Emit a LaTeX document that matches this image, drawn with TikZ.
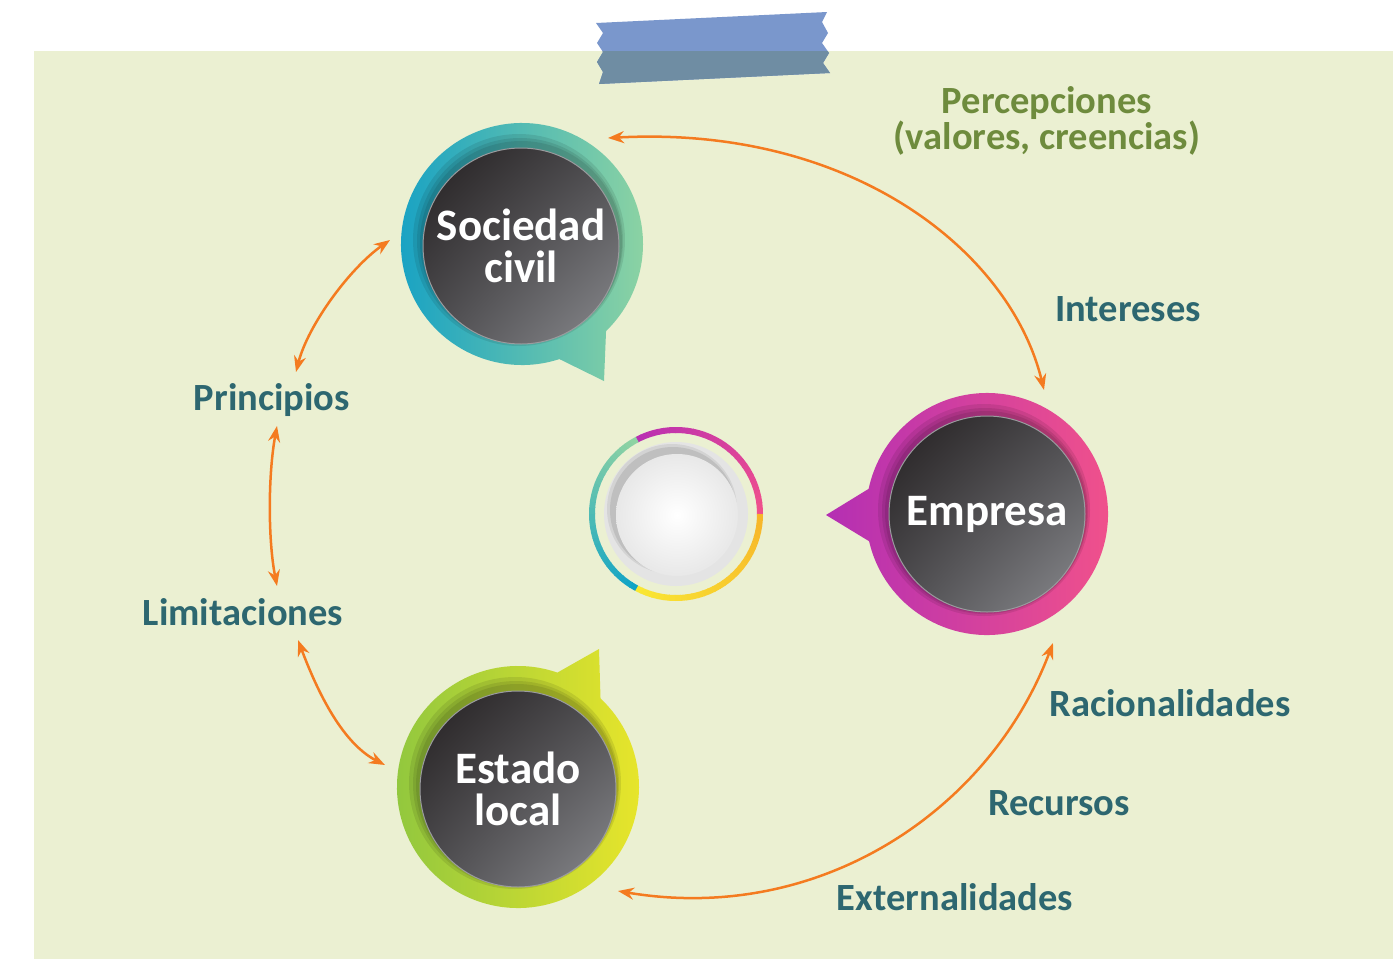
\documentclass[tikz,border=0pt]{standalone}
\usepackage{fontspec}
\setmainfont{Carlito}
\usetikzlibrary{arrows.meta,positioning,shadings}

\definecolor{bgGreen}{HTML}{EBF0D2}
\definecolor{tapeTop}{HTML}{7A97CC}
\definecolor{tapeLow}{HTML}{6F8DA3}
\definecolor{arrowOrange}{HTML}{F47B20}
\definecolor{labelTeal}{HTML}{2D6770}
\definecolor{labelOlive}{HTML}{6E8B3D}
\definecolor{hubDark}{HTML}{231F20}
\definecolor{hubMid}{HTML}{4E4D50}
\definecolor{hubLight}{HTML}{8A8B8F}
\definecolor{hubRim}{HTML}{9A9B9E}
\definecolor{socLeft}{HTML}{13A0C5}
\definecolor{socRight}{HTML}{8FD4A2}
\definecolor{empLeft}{HTML}{B42FB3}
\definecolor{empRight}{HTML}{F2528A}
\definecolor{estLeft}{HTML}{8DC63F}
\definecolor{estRight}{HTML}{EAE62A}
\definecolor{ringPurple}{HTML}{B92FB2}
\definecolor{ringPink}{HTML}{F0508C}
\definecolor{ringOrange}{HTML}{F7B52A}
\definecolor{ringYellow}{HTML}{F9E733}
\definecolor{ringBlue}{HTML}{0FA3C6}
\definecolor{ringGreen}{HTML}{8FD3A3}
\definecolor{diskGray}{HTML}{E4E4E4}

% colour-graded arc of the middle ring
\def\gradarc(#1)(#2:#3)#4#5{\foreach \k in {0,...,29}{\pgfmathsetmacro\mixp{100-\k*100/29}\pgfmathsetmacro\angA{#2+(#3-#2)*\k/30}\draw[line width=6pt, draw=#4!\mixp!#5] (#1) ++(\angA:84) arc[start angle=\angA, delta angle={(#3-#2)/30+0.5}, radius=84];}}
\def\tapepath{(596,23) -- (827,12) -- (822,22) -- (828,33) -- (822,43) -- (829,53) -- (823,63) -- (830,73) -- (599,84) -- (603,72) -- (597,62) -- (603,52) -- (597,43) -- (603,33) -- cycle}

\tikzset{
  link/.style={draw=arrowOrange, line width=2.5pt, {Stealth[length=16pt,width=12pt]}-{Stealth[length=16pt,width=12pt]}},
  word/.style={font=\bfseries\fontsize{38.5}{34}\selectfont, text=labelTeal, inner sep=0pt, align=center},
  hub/.style={circle, minimum size=196pt, inner sep=0pt, upper left=hubDark, lower right=hubLight, upper right=hubMid, lower left=hubMid, draw=hubRim, line width=1pt, text=white, align=center, font=\bfseries\fontsize{45}{42}\selectfont},
  shadowring/.style={fill=black, opacity=.09},
}

\begin{document}
\begin{tikzpicture}[x=1pt, y=-1pt]
	%%%%% BACKGROUND %%%%%
	\useasboundingbox (0,0) rectangle (1393,959);
	\fill[white] (0,0) rectangle (1393,959);
	\fill[bgGreen] (34,51) rectangle (1393,959);
	
	\fill[tapeTop] \tapepath;
	\begin{scope}
		\clip (34,51) rectangle (1393,959);
		\fill[tapeLow] \tapepath;
	\end{scope}
	
	%%%%% BUBBLES %%%%%
	\coordinate (socC) at (522,244);
	\coordinate (empC) at (987,514);
	\coordinate (estC) at (518,787);
	
	\shade[left color=socLeft, right color=socRight] (604,381) -- ([shift={(72:121)}]socC) arc[start angle=72, end angle=406, radius=121] -- cycle;
	\shade[left color=empLeft, right color=empRight] (826,515) -- ([shift={(167:121)}]empC) arc[start angle=167, end angle=-168, radius=121] -- cycle;
	\shade[left color=estLeft, right color=estRight] (599,649) -- ([shift={(-71:121)}]estC) arc[start angle=-71, end angle=-407, radius=121] -- cycle;
	
	\foreach \c in {socC,empC,estC}{
		\fill[shadowring] ([shift={(-3,-4)}]\c) circle (106);
		\fill[shadowring] ([shift={(-2,-3)}]\c) circle (103);
		\fill[shadowring] ([shift={(-1,-2)}]\c) circle (101);
	}
	
	\node[hub] (soc) at ([shift={(-1,2)}]socC) {Sociedad\\civil};
	\node[hub] (emp) at (empC) {Empresa};
	\node[hub] (est) at ([shift={(0,2)}]estC) {Estado\\local};
	
	%%%%% MIDDLE %%%%%
	\coordinate (midC) at (676,514);
	\gradarc(midC)(-118:0){ringPurple}{ringPink}
	\gradarc(midC)(0:118){ringOrange}{ringYellow}
	\gradarc(midC)(118:242){ringBlue}{ringGreen}
	
	\fill[diskGray] (midC) circle (72);
	\fill[black, opacity=.07] ([shift={(-4,-5)}]midC) circle (65);
	\fill[black, opacity=.09] ([shift={(-3,-4)}]midC) circle (63);
	\node[circle, minimum size=122pt, inner sep=0pt, inner color=white, outer color=gray!18] (core) at ([shift={(1,1)}]midC) {};
	
	%%%%% LABELS %%%%%
	\node[word, text=labelOlive] (perc) at (1047,121) {Percepciones\\(valores, creencias)};
	\node[word] (inter) at (1128,309) {Intereses};
	\node[word] (princ) at (272,400) {Principios};
	\node[word] (limit) at (243,612) {Limitaciones};
	\node[word] (racio) at (1170,703) {Racionalidades};
	\node[word] (recur) at (1059,803) {Recursos};
	\node[word] (exter) at (955,897) {Externalidades};
	
	%%%%% ARROWS %%%%%
	\coordinate (topA) at (608,138);
	\coordinate (topB) at (1044,390);
	\coordinate (botA) at (618,891);
	\coordinate (botB) at (1053,643);
	\coordinate (lftA) at (390,240);
	\coordinate (lftB) at (296,372);
	\coordinate (lftC) at (277,426);
	\coordinate (lftD) at (277,586);
	\coordinate (lftE) at (298,640);
	\coordinate (lftF) at (385,765);
	
	\draw[link] (topA) .. controls (850,125) and (1010,250) .. (topB);
	\draw[link] (botA) .. controls (820,925) and (990,810) .. (botB);
	\draw[link] (lftA) .. controls (350,268) and (308,325) .. (lftB);
	\draw[link] (lftC) .. controls (268,475) and (268,540) .. (lftD);
	\draw[link] (lftE) .. controls (315,685) and (340,742) .. (lftF);
	
\end{tikzpicture}
\end{document}
